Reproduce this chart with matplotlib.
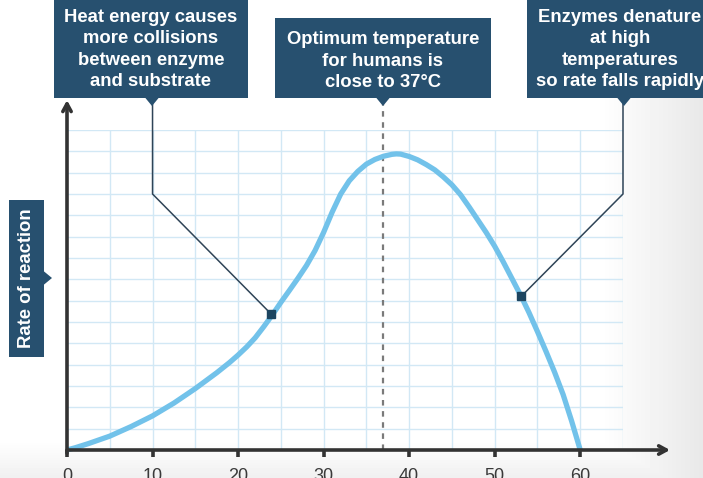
import numpy as np
import matplotlib.pyplot as plt
from matplotlib.patches import Rectangle, Polygon

plt.rcParams['font.family'] = ['Liberation Sans', 'DejaVu Sans']

# curve: temperature (deg C) vs rate of reaction (grid units)
temps = [0, 1, 2.5, 5, 7.5, 10, 12.5, 15, 17.5, 19, 20, 21, 22, 23, 24, 25, 26, 27, 28, 29,
         30, 31, 32, 33, 34, 35, 36, 37, 38, 38.5, 39, 40, 41, 42, 43, 44, 45, 46, 47, 48, 49,
         50, 51, 52, 53.1, 54, 55, 56, 57, 58, 59, 60]
rate = [0, 0.11, 0.3, 0.65, 1.1, 1.6, 2.2, 2.88, 3.62, 4.1, 4.45, 4.83, 5.26, 5.78, 6.33, 6.92, 7.48, 8.05, 8.65, 9.35,
        10.2, 11.15, 12.0, 12.62, 13.06, 13.4, 13.62, 13.77, 13.86, 13.88, 13.87, 13.76, 13.6, 13.38, 13.13, 12.8, 12.43, 11.97, 11.4, 10.8, 10.2,
        9.55, 8.82, 8.05, 7.2, 6.45, 5.55, 4.62, 3.65, 2.6, 1.35, 0]

xticks = [0, 10, 20, 30, 40, 50, 60]
optimum = 37
mark_x = [23.9, 53.1]
mark_y = [6.36, 7.2]
elbow_x = [10, 65]
elbow_y = 12

box_texts = [
    ["Heat energy causes", "more collisions", "between enzyme", "and substrate"],
    ["Optimum temperature", "for humans is", "close to 37°C"],
    ["Enzymes denature", "at high", "temperatures", "so rate falls rapidly"],
]
ylabel = "Rate of reaction"

navy = '#27506f'
curve_col = '#72c2ea'
grid_col = '#d2e8f5'
axis_col = '#333333'

W, H = 703, 478
fig = plt.figure(figsize=(W / 100, H / 100), dpi=100)

# soft grey background on the right and bottom
bg = fig.add_axes([0, 0, 1, 1], zorder=0)
xx, yy = np.meshgrid(np.arange(W), np.arange(H))
shade = np.maximum(np.clip((xx - 600) / 103, 0, 1) * 0.09,
                   np.clip((yy - 440) / 38, 0, 1) * 0.06)
bg.imshow(1 - shade, extent=(0, W, H, 0), aspect='auto', cmap='gray', vmin=0, vmax=1)
bg.axis('off')

ax = fig.add_axes([67 / W, (H - 450) / H, (623 - 67) / W, (450 - 130) / H], zorder=1)
ax.set_facecolor('none')
ax.set_xlim(0, 65)
ax.set_ylim(0, 15)
for s in ax.spines.values():
    s.set_visible(False)

ax.vlines(np.arange(5, 66, 5), 0, 15, color=grid_col, lw=1, zorder=1)
ax.hlines(np.arange(1, 16), 0, 65, color=grid_col, lw=1, zorder=1)

ax.set_xticks(xticks)
ax.set_xticklabels([str(t) for t in xticks])
ax.tick_params(axis='x', length=5, width=2.6, color=axis_col, pad=8,
               labelsize=13, labelcolor='#3a3a3a')
ax.set_yticks([])

arrow = dict(arrowstyle='->,head_length=0.55,head_width=0.3', lw=2.6,
             color=axis_col, shrinkA=0, shrinkB=0)
ax.annotate('', xy=(70.5, 0), xytext=(0, 0), arrowprops=arrow, annotation_clip=False, zorder=5)
ax.annotate('', xy=(0, 16.4), xytext=(0, -0.15), arrowprops=arrow, annotation_clip=False, zorder=5)

top = (450 - 98) / ((450 - 130) / 15)
ax.plot([optimum, optimum], [0, top], ls=(0, (2.5, 2.5)), color='#7a7a7a', lw=1.6,
        clip_on=False, zorder=2)
for ex, mx, my in zip(elbow_x, mark_x, mark_y):
    ax.plot([ex, ex, mx], [top, elbow_y, my], color='#2f4457', lw=1.1, clip_on=False, zorder=2)

ax.plot(temps, rate, color=curve_col, lw=3.8, solid_capstyle='butt', solid_joinstyle='round',
        clip_on=False, zorder=3)
ax.plot(mark_x, mark_y, 's', ms=5.5, color='#1d4560', zorder=4, clip_on=False)

# overlay in pixel coordinates for the callout boxes
ov = fig.add_axes([0, 0, 1, 1], zorder=3)
ov.set_xlim(0, W)
ov.set_ylim(H, 0)
ov.axis('off')
ov.set_facecolor('none')

boxes = [(54, 0, 248, 98, 152, [17, 38.5, 60, 81.5]),
         (275, 18, 491, 98, 383, [39.5, 61, 82]),
         (527, 0, 713, 98, 624, [17, 38.5, 60, 81.5])]
for (x0, y0, x1, y1, px, ys), lines in zip(boxes, box_texts):
    ov.add_patch(Rectangle((x0, y0), x1 - x0, y1 - y0, color=navy, lw=0))
    ov.add_patch(Polygon([(px - 7, y1 - 0.5), (px + 7, y1 - 0.5), (px, y1 + 8)], color=navy, lw=0))
    cx = (x0 + x1) / 2
    for line, ty in zip(lines, ys):
        ov.text(cx, ty, line, color='white', fontsize=13.3, fontweight='bold',
                ha='center', va='center')

ov.add_patch(Rectangle((9, 200), 35, 157, color=navy, lw=0))
ov.add_patch(Polygon([(43.5, 271), (43.5, 285), (52, 278)], color=navy, lw=0))
ov.text(26.5, 278.5, ylabel, color='white', fontsize=13.3, fontweight='bold',
        rotation=90, ha='center', va='center')

fig.savefig('out.png', dpi=100)
